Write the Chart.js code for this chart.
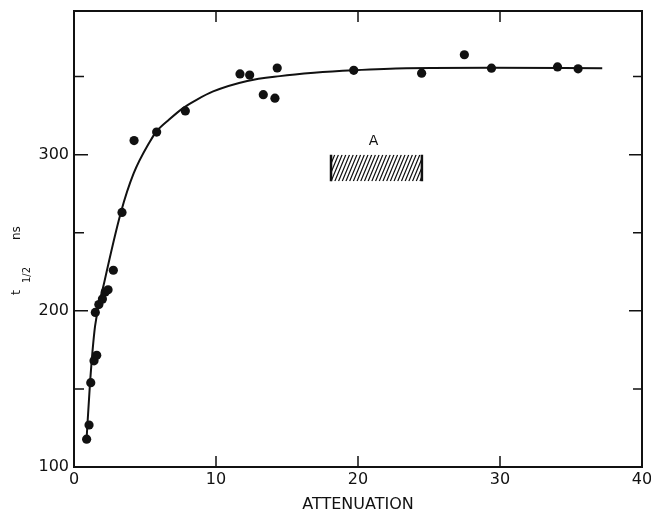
<!DOCTYPE html>
<html><head><meta charset="utf-8">
<script src="https://cdn.jsdelivr.net/npm/chart.js@4.4.0/dist/chart.umd.min.js"></script>
<style>html,body{margin:0;padding:0;background:#fff}#wrap{width:651px;height:513px}</style>
</head><body><div id="wrap"><canvas id="c" width="651" height="513"></canvas></div>
<script>
// ---- data ----
const pointX = [0.89, 1.06, 1.18, 1.41, 1.6, 1.5, 1.75, 2.0, 2.2, 2.4, 2.77, 3.38, 4.23, 5.82, 7.84, 11.69, 12.37, 14.31, 13.33, 14.15, 19.7, 24.48, 27.49, 29.4, 34.05, 35.5];
const pointY = [117.8, 126.9, 154, 168, 171.5, 199, 204, 207.5, 212, 213.5, 226, 263, 309, 314.5, 328, 351.7, 351, 355.5, 338.4, 336.2, 354, 352.2, 364, 355.4, 356.2, 355];
const curveX = [0.88, 1.13, 1.48, 2.1, 3.3, 4.2, 5.35, 5.82, 6.7, 7.7, 8.6, 9.8, 12.2, 14.5, 16.9, 19.7, 23.4, 29.3, 37.2];
const curveY = [117, 154, 190, 217, 263, 288, 308.5, 315, 322.5, 330, 335, 340.5, 347.2, 350.3, 352.4, 354, 355.3, 355.6, 355.4];
const xTicks = [0, 10, 20, 30, 40];
const yTicks = [100, 200, 300];
const yMinorTicks = [150, 250, 350];
const boxX = [18.1, 24.5];
const boxY = [283, 300];
const boxLabel = 'A';
const boxLabelPos = [21.1, 308.5];
const xTitle = 'ATTENUATION';
const yTitleParts = ['t', '1/2', 'ns'];

const FONT = 'DejaVu Sans';
const INK = '#111';

function zeroPad(s) { s.paddingLeft = 0; s.paddingRight = 0; s.paddingTop = 0; s.paddingBottom = 0; }

const framePlugin = {
  id: 'frame',
  afterDatasetsDraw(chart) {
    const {ctx, chartArea: a, scales: {x, y}} = chart;
    ctx.save();
    ctx.strokeStyle = INK;
    ctx.lineWidth = 2;
    ctx.strokeRect(a.left, a.top, a.right - a.left, a.bottom - a.top);
    ctx.lineWidth = 1.5;
    ctx.beginPath();
    xTicks.forEach(v => {
      const px = x.getPixelForValue(v);
      if (px <= a.left + 1 || px >= a.right - 1) return;
      ctx.moveTo(px, a.bottom); ctx.lineTo(px, a.bottom - 11);
      ctx.moveTo(px, a.top); ctx.lineTo(px, a.top + 11);
    });
    yTicks.forEach(v => {
      const py = y.getPixelForValue(v);
      if (py >= a.bottom - 1) return;
      ctx.moveTo(a.left, py); ctx.lineTo(a.left + 14, py);
      ctx.moveTo(a.right, py); ctx.lineTo(a.right - 13, py);
    });
    yMinorTicks.forEach(v => {
      const py = y.getPixelForValue(v);
      ctx.moveTo(a.left, py); ctx.lineTo(a.left + 10, py);
      ctx.moveTo(a.right, py); ctx.lineTo(a.right - 9, py);
    });
    ctx.stroke();

    // hatched box A
    const x0 = x.getPixelForValue(boxX[0]), x1 = x.getPixelForValue(boxX[1]);
    const yt = y.getPixelForValue(boxY[1]), yb = y.getPixelForValue(boxY[0]);
    const h = yb - yt;
    ctx.save();
    ctx.beginPath();
    ctx.rect(x0, yt, x1 - x0, h);
    ctx.clip();
    ctx.lineWidth = 1.2;
    ctx.beginPath();
    const dx = 11;
    for (let k = x0 - dx; k < x1 + 1; k += 3.7) {
      ctx.moveTo(k, yb); ctx.lineTo(k + dx, yt);
    }
    ctx.stroke();
    ctx.restore();
    ctx.lineWidth = 2.5;
    ctx.beginPath();
    ctx.moveTo(x0, yt); ctx.lineTo(x0, yb);
    ctx.moveTo(x1, yt); ctx.lineTo(x1, yb);
    ctx.stroke();

    ctx.fillStyle = INK;
    ctx.font = '14px ' + FONT;
    ctx.textAlign = 'center';
    ctx.textBaseline = 'middle';
    ctx.fillText(boxLabel, x.getPixelForValue(boxLabelPos[0]), y.getPixelForValue(boxLabelPos[1]));

    // y axis title: t_{1/2}  ns
    ctx.translate(20, 295);
    ctx.rotate(-Math.PI / 2);
    ctx.textAlign = 'left';
    ctx.textBaseline = 'alphabetic';
    ctx.font = '13px ' + FONT;
    ctx.fillText(yTitleParts[0], 0, 0);
    ctx.font = '10px ' + FONT;
    ctx.fillText(yTitleParts[1], 12, 10);
    ctx.font = '12px ' + FONT;
    ctx.fillText(yTitleParts[2], 55, 0);
    ctx.restore();
  }
};

new Chart(document.getElementById('c'), {
  data: {
    datasets: [
      {
        type: 'line',
        data: curveX.map((v, i) => ({x: v, y: curveY[i]})),
        borderColor: INK,
        borderWidth: 2,
        pointRadius: 0,
        fill: false,
        cubicInterpolationMode: 'monotone'
      },
      {
        type: 'scatter',
        data: pointX.map((v, i) => ({x: v, y: pointY[i]})),
        backgroundColor: INK,
        borderColor: INK,
        borderWidth: 0,
        pointRadius: 4.6
      }
    ]
  },
  options: {
    responsive: false,
    animation: false,
    devicePixelRatio: 1,
    layout: {padding: {top: 11, right: 9, left: 0, bottom: 0}},
    plugins: {legend: {display: false}, tooltip: {enabled: false}},
    scales: {
      x: {
        type: 'linear', min: 0, max: 40,
        afterBuildTicks: s => { s.ticks = xTicks.map(v => ({value: v})); },
        afterFit: s => { s.height = 46; zeroPad(s); },
        grid: {display: false, drawTicks: false},
        border: {display: false},
        ticks: {font: {family: FONT, size: 16}, color: INK, padding: 3, maxRotation: 0, autoSkip: false},
        title: {display: true, text: xTitle, font: {family: FONT, size: 16, lineHeight: 1}, color: INK, padding: 0}
      },
      y: {
        type: 'linear', min: 100, max: 392,
        afterBuildTicks: s => { s.ticks = yTicks.map(v => ({value: v})); },
        afterFit: s => { s.width = 74; zeroPad(s); },
        grid: {display: false, drawTicks: false},
        border: {display: false},
        ticks: {font: {family: FONT, size: 16}, color: INK, padding: 5, autoSkip: false}
      }
    }
  },
  plugins: [framePlugin]
});
</script></body></html>
